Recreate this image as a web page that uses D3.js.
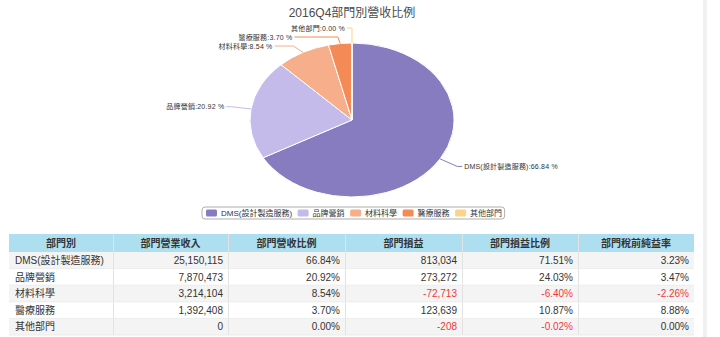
<!DOCTYPE html>
<html>
<head>
<meta charset="utf-8">
<script src="https://cdn.jsdelivr.net/npm/d3@7/dist/d3.min.js"></script>
<style>
    body { margin: 0; background: #fff; }
    text { font-family: "Liberation Sans", Arial, "Noto Sans CJK TC", sans-serif; }
</style>
</head>
<body>
<div id="chart"></div>
<script>
// data
var depts = ["DMS(設計製造服務)", "品牌營銷", "材料科學", "醫療服務", "其他部門"];
var revenue = [25150115, 7870473, 3214104, 1392408, 0];
var revShare = [66.84, 20.92, 8.54, 3.70, 0.00];
var profit = [813034, 273272, -72713, 123639, -208];
var profitShare = [71.51, 24.03, -6.40, 10.87, -0.02];
var preTaxMargin = [3.23, 3.47, -2.26, 8.88, 0.00];
var colors = ["#877cc0", "#c4bbea", "#f6ae8b", "#f48a56", "#fcd389"];
var headers = ["部門別", "部門營業收入", "部門營收比例", "部門損益", "部門損益比例", "部門稅前純益率"];
var title = "2016Q4部門別營收比例";

var width = 720, height = 337;

var svg = d3.select("#chart").append("svg")
    .attr("width", width)
    .attr("height", height)

// faint strip on the right
svg.append("rect")
    .attr("x", 703).attr("y", 0)
    .attr("width", 4).attr("height", height)
    .attr("fill", "#f1f1f1")

svg.append("text")
    .attr("x", 352).attr("y", 17)
    .attr("text-anchor", "middle")
    .attr("fill", "#4a4a4a")
    .style("font-size", "12px")
    .text(title)

// pie (drawn as ellipse, stretched horizontally)
var cx = 352, cy = 120, r = 77, sx = 1.325, dist = 15;

var pie = d3.pie().sort(null).value(function (d) { return d.value; });
var slices = pie(depts.map(function (d, i) {
    return { name: d, value: revenue[i], share: revShare[i], color: colors[i] };
}));
var arc = d3.arc().innerRadius(0).outerRadius(r);

svg.append("g")
    .attr("transform", "translate(" + cx + "," + cy + ") scale(" + sx + ",1)")
    .selectAll("path")
    .data(slices)
    .enter()
    .append("path")
    .attr("d", arc)
    .attr("fill", function (d) { return d.data.color; })
    .attr("stroke", "#fff")
    .attr("stroke-width", 1)
    .attr("vector-effect", "non-scaling-stroke")

// label layout
var R = r + dist;
var labels = slices.map(function (d) {
    var a = (d.startAngle + d.endAngle) / 2;
    return {
        d: d,
        left: a >= Math.PI,
        edge: [cx + sx * r * Math.sin(a), cy - r * Math.cos(a)],
        nat: [cx + sx * R * Math.sin(a), cy - R * Math.cos(a)],
        y: cy - R * Math.cos(a)
    };
});
[true, false].forEach(function (side) {
    var group = labels.filter(function (l) { return l.left === side; })
        .sort(function (a, b) { return a.y - b.y; });
    for (var i = 1; i < group.length; i++) {
        if (group[i].y < group[i - 1].y + 9) group[i].y = group[i - 1].y + 9;
    }
});
labels.forEach(function (l) {
    var dy = l.y - cy;
    var off = sx * Math.sqrt(Math.max(0, R * R - dy * dy));
    l.x = l.left ? cx - off : cx + off;
});

var lg = svg.append("g");
lg.selectAll("path")
    .data(labels)
    .enter()
    .append("path")
    .attr("d", function (l) {
        var lx = l.left ? l.x - 5 : l.x + 5;
        return "M" + lx + "," + l.y + "L" + l.nat[0] + "," + l.y + "L" + l.edge[0] + "," + l.edge[1];
    })
    .attr("fill", "none")
    .attr("stroke", function (l) { return l.d.data.color; })
    .attr("stroke-width", 1)

lg.selectAll("text")
    .data(labels)
    .enter()
    .append("text")
    .attr("x", function (l) { return l.left ? l.x - 7 : l.x + 7; })
    .attr("y", function (l) { return l.y + 2.5; })
    .attr("text-anchor", function (l) { return l.left ? "end" : "start"; })
    .attr("fill", "#333")
    .style("font-size", "7px")
    .style("letter-spacing", "0.2px")
    .text(function (l) { return l.d.data.name + ":" + l.d.data.share.toFixed(2) + " %"; })

// legend
var legend = svg.append("g");
var legBox = legend.append("rect")
    .attr("y", 207).attr("height", 12)
    .attr("rx", 3)
    .attr("fill", "#fff")
    .attr("stroke", "#9a9a9a")
    .attr("stroke-width", 0.8)
var lx = 206;
depts.forEach(function (name, i) {
    legend.append("rect")
        .attr("x", lx).attr("y", 209.5)
        .attr("width", 11).attr("height", 7)
        .attr("rx", 1.5)
        .attr("fill", colors[i])
    var t = legend.append("text")
        .attr("x", lx + 15).attr("y", 216)
        .attr("fill", "#333")
        .style("font-size", "8px")
        .text(name)
    lx += 15 + t.node().getComputedTextLength() + 5.5;
});
legBox.attr("x", 202).attr("width", lx - 202 - 3);

// table
var colEdges = [9, 113, 228, 345, 462, 578, 694];
var tableTop = 234, headH = 18, rowH = 16.6;
var fmt = function (v) { return d3.format(",")(v).replace("\u2212", "-"); };
var pct = function (v) { return v.toFixed(2) + "%"; };

var rows = depts.map(function (d, i) {
    return [
        { t: d, neg: false },
        { t: fmt(revenue[i]), neg: revenue[i] < 0 },
        { t: pct(revShare[i]), neg: revShare[i] < 0 },
        { t: fmt(profit[i]), neg: profit[i] < 0 },
        { t: pct(profitShare[i]), neg: profitShare[i] < 0 },
        { t: pct(preTaxMargin[i]), neg: preTaxMargin[i] < 0 }
    ];
});

var tg = svg.append("g");
tg.append("rect")
    .attr("x", colEdges[0]).attr("y", tableTop)
    .attr("width", colEdges[6] - colEdges[0]).attr("height", headH)
    .attr("fill", "#aedff0")

tg.selectAll("rect.row")
    .data(rows)
    .enter()
    .append("rect")
    .attr("class", "row")
    .attr("x", colEdges[0])
    .attr("y", function (d, i) { return tableTop + headH + i * rowH; })
    .attr("width", colEdges[6] - colEdges[0])
    .attr("height", rowH)
    .attr("fill", function (d, i) { return i % 2 === 0 ? "#f4f4f4" : "#fff"; })

// grid lines
var bottom = tableTop + headH + rows.length * rowH;
for (var c = 1; c < colEdges.length - 1; c++) {
    tg.append("line")
        .attr("x1", colEdges[c] + 0.5).attr("x2", colEdges[c] + 0.5)
        .attr("y1", tableTop).attr("y2", bottom)
        .attr("stroke", "#e2e2e2")
}
for (var k = 1; k <= rows.length; k++) {
    tg.append("line")
        .attr("x1", colEdges[0]).attr("x2", colEdges[6])
        .attr("y1", tableTop + headH + k * rowH).attr("y2", tableTop + headH + k * rowH)
        .attr("stroke", "#ececec")
}

tg.selectAll("text.head")
    .data(headers)
    .enter()
    .append("text")
    .attr("class", "head")
    .attr("x", function (d, i) { return (colEdges[i] + colEdges[i + 1]) / 2; })
    .attr("y", tableTop + 13)
    .attr("text-anchor", "middle")
    .attr("fill", "#333")
    .style("font-size", "10px")
    .style("font-weight", "bold")
    .text(function (d) { return d; })

rows.forEach(function (row, i) {
    var y = tableTop + headH + i * rowH + 12;
    row.forEach(function (cell, j) {
        tg.append("text")
            .attr("x", j === 0 ? colEdges[0] + 6 : colEdges[j + 1] - 5)
            .attr("y", y)
            .attr("text-anchor", j === 0 ? "start" : "end")
            .attr("fill", cell.neg ? "#f2363b" : "#333")
            .style("font-size", "10px")
            .text(cell.t)
    });
});
</script>
</body>
</html>
